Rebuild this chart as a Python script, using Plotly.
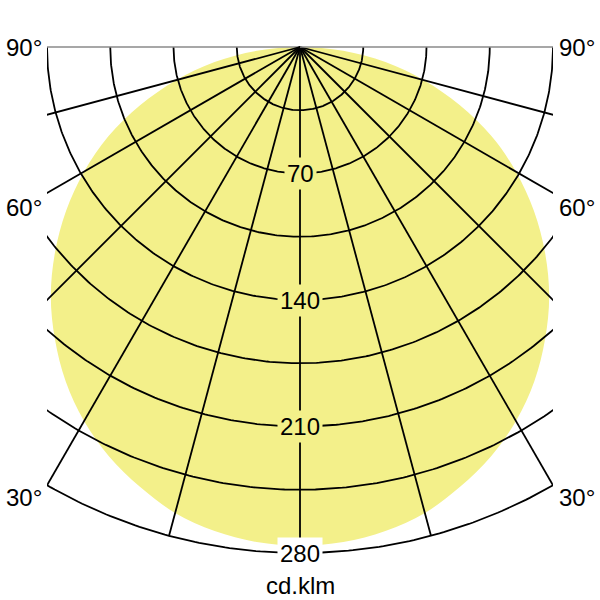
import numpy as np
import plotly.graph_objects as go

# luminous intensity (cd/klm), 0..90 deg from nadir, symmetric
angles = [0, 5, 10, 15, 20, 25, 30, 35, 40, 45, 50, 55, 60, 65, 70, 75, 80, 85, 90]
intensity = [276, 275, 272, 267, 259, 250, 239, 226, 211, 195, 177, 158, 138, 117, 94, 71, 48, 24, 0]

rings = [35, 70, 105, 140, 175, 210, 245, 280]
ring_labels = ["70", "140", "210", "280"]
spokes = [-90, -75, -60, -45, -30, -15, 0, 15, 30, 45, 60, 75, 90]
angle_labels = ["90°", "60°", "30°"]
unit = "cd.klm"

YELLOW = "#f3f08a"
FONT = "Liberation Sans, Arial, sans-serif"

W, H = 600, 600
ml, mr, mt, mb = 47, 47, 40, 30
r_max = rings[-1]
x_half = r_max / 2  # frame cuts the grid at +-140
scale = (W - ml - mr) / (2 * x_half)
y_top = (47 - mt) / scale
y_bot = y_top - (H - mt - mb) / scale


def to_xy(theta_deg, r):
    t = np.radians(theta_deg)
    return np.asarray(r) * np.sin(t), -np.asarray(r) * np.cos(t)


fig = go.Figure()

# light distribution curve, mirrored for the other half plane
th = [-a for a in angles[::-1]] + angles[1:]
rr = intensity[::-1] + intensity[1:]
cx, cy = to_xy(np.array(th, dtype=float), np.array(rr, dtype=float))
fig.add_trace(go.Scatter(x=cx, y=cy, mode="lines", fill="toself",
                         fillcolor=YELLOW, line=dict(color=YELLOW, width=0, shape="spline"),
                         hoverinfo="skip", showlegend=False))

# concentric rings
arc = np.linspace(-90, 90, 361)
for r in rings:
    ax_, ay_ = to_xy(arc, r)
    fig.add_trace(go.Scatter(x=ax_, y=ay_, mode="lines",
                             line=dict(color="black", width=1.8),
                             hoverinfo="skip", showlegend=False))

# spokes every 15 deg
for a in spokes:
    sx, sy = to_xy(np.array([a, a], dtype=float), np.array([0, r_max]))
    col = "#8a8a8a" if abs(a) == 90 else "black"
    w = 1.3 if abs(a) == 90 else 1.8
    fig.add_trace(go.Scatter(x=sx, y=sy, mode="lines",
                             line=dict(color=col, width=w),
                             hoverinfo="skip", showlegend=False))

# ring value labels on the 0 deg spoke
for lab in ring_labels:
    v = float(lab)
    inside = v < intensity[0]
    fig.add_annotation(x=0, y=-v, text=lab, showarrow=False,
                       font=dict(family=FONT, size=24, color="black"),
                       bgcolor=YELLOW if inside else "white", borderpad=2)

# angle labels outside the frame
pw, ph = W - ml - mr, H - mt - mb
for lab, py in zip(angle_labels, [47, 207, 497]):
    for px in (24, 577):
        fig.add_annotation(x=(px - ml) / pw, y=1 - (py - mt) / ph,
                           xref="paper", yref="paper", text=lab,
                           showarrow=False, xanchor="center", yanchor="middle",
                           font=dict(family=FONT, size=24, color="black"))

fig.add_annotation(x=0.5, y=1 - (585 - mt) / ph, xref="paper", yref="paper",
                   text=unit, showarrow=False, yanchor="middle",
                   font=dict(family=FONT, size=24, color="black"))

fig.update_layout(
    width=W, height=H,
    margin=dict(l=ml, r=mr, t=mt, b=mb),
    paper_bgcolor="white", plot_bgcolor="white",
    xaxis=dict(range=[-x_half, x_half], visible=False, fixedrange=True),
    yaxis=dict(range=[y_bot, y_top], visible=False, fixedrange=True),
    showlegend=False,
)

fig.write_html("out.html", config=dict(displayModeBar=False),
               post_script="document.body.style.margin='0';")
